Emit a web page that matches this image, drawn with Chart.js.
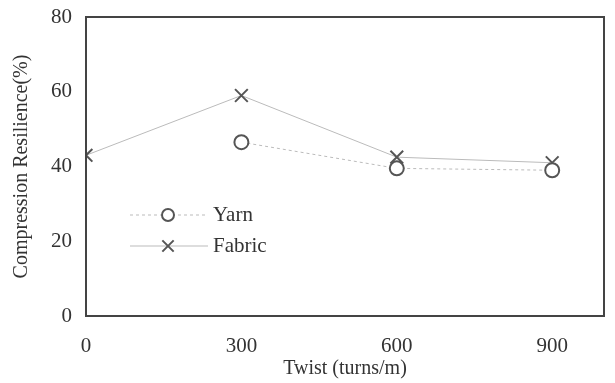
<!DOCTYPE html>
<html>
<head>
<meta charset="utf-8">
<script src="https://cdn.jsdelivr.net/npm/chart.js@4"></script>
<style>
  html, body { margin: 0; padding: 0; background: #fff; }
  #wrap { width: 615px; height: 383px; }
</style>
</head>
<body>
<div id="wrap"><canvas id="chart"></canvas></div>
<script>
var twist = [0, 300, 600, 900];
var yarnTwist = [300, 600, 900];
var yarnValues = [46.5, 39.5, 39];
var fabricValues = [43, 59, 42.5, 41];
var yTicks = [0, 20, 40, 60, 80];

function pts(xs, ys) {
  return xs.map(function (x, i) { return { x: x, y: ys[i] }; });
}

var serif = "'Liberation Serif', 'DejaVu Serif', serif";
var markColor = '#555';
var lineColor = '#bbb';

// box around the plot and the little legend inside it
var framePlugin = {
  id: 'frame',
  afterDraw: function (chart) {
    var ctx = chart.ctx;
    var a = chart.chartArea;
    ctx.save();
    ctx.strokeStyle = '#444';
    ctx.lineWidth = 2;
    ctx.strokeRect(a.left, a.top, a.right - a.left, a.bottom - a.top);

    var rows = [
      { label: 'Yarn', dash: [3, 3], style: 'circle', y: a.top + 198 },
      { label: 'Fabric', dash: [], style: 'crossRot', y: a.top + 229 }
    ];
    rows.forEach(function (r) {
      var x0 = a.left + 44, x1 = a.left + 122, mx = a.left + 82;
      ctx.strokeStyle = lineColor;
      ctx.lineWidth = 1;
      ctx.setLineDash(r.dash);
      ctx.beginPath();
      ctx.moveTo(x0, r.y);
      ctx.lineTo(x1, r.y);
      ctx.stroke();
      ctx.setLineDash([]);
      ctx.strokeStyle = markColor;
      ctx.fillStyle = '#fff';
      ctx.lineWidth = 2;
      Chart.helpers.drawPoint(ctx, { pointStyle: r.style, radius: r.style === 'circle' ? 6 : 8, borderWidth: 2 }, mx, r.y);
      ctx.fillStyle = '#333';
      ctx.font = '21px ' + serif;
      ctx.textBaseline = 'middle';
      ctx.textAlign = 'left';
      ctx.fillText(r.label, a.left + 127, r.y);
    });
    ctx.restore();
  }
};

new Chart(document.getElementById('chart'), {
  type: 'line',
  data: {
    datasets: [{
      label: 'Yarn',
      data: pts(yarnTwist, yarnValues),
      borderColor: lineColor,
      borderWidth: 1,
      borderDash: [3, 3],
      pointStyle: 'circle',
      pointRadius: 7,
      pointBorderWidth: 2,
      pointBorderColor: markColor,
      pointBackgroundColor: '#fff',
      tension: 0
    }, {
      label: 'Fabric',
      data: pts(twist, fabricValues),
      borderColor: lineColor,
      borderWidth: 1,
      pointStyle: 'crossRot',
      pointRadius: 9,
      pointBorderWidth: 2,
      pointBorderColor: markColor,
      tension: 0
    }]
  },
  options: {
    responsive: true,
    maintainAspectRatio: false,
    animation: false,
    layout: { padding: { top: 17, right: 8, left: 0, bottom: 0 } },
    plugins: { legend: { display: false }, tooltip: { enabled: false } },
    scales: {
      x: {
        type: 'linear',
        min: 0,
        max: 1000,
        afterBuildTicks: function (axis) {
          axis.ticks = twist.map(function (v) { return { value: v }; });
        },
        afterFit: function (axis) {
          axis.height = 67;
          axis.paddingLeft = 0;
          axis.paddingRight = 0;
        },
        grid: { display: false, drawTicks: false },
        border: { display: false },
        ticks: { color: '#333', font: { family: serif, size: 21 }, padding: 18, maxRotation: 0 },
        title: { display: true, text: 'Twist (turns/m)', color: '#333', font: { family: serif, size: 20 }, padding: { top: 0, bottom: 2 } }
      },
      y: {
        min: 0,
        max: 80,
        afterBuildTicks: function (axis) {
          axis.ticks = yTicks.map(function (v) { return { value: v }; });
        },
        afterFit: function (axis) {
          axis.width = 86;
          axis.paddingTop = 0;
          axis.paddingBottom = 0;
        },
        grid: { display: false, drawTicks: false },
        border: { display: false },
        ticks: { color: '#333', font: { family: serif, size: 21 }, padding: 14 },
        title: { display: true, text: 'Compression Resilience(%)', color: '#333', font: { family: serif, size: 20 }, padding: { top: 10, bottom: 6 } }
      }
    }
  },
  plugins: [framePlugin]
});
</script>
</body>
</html>
